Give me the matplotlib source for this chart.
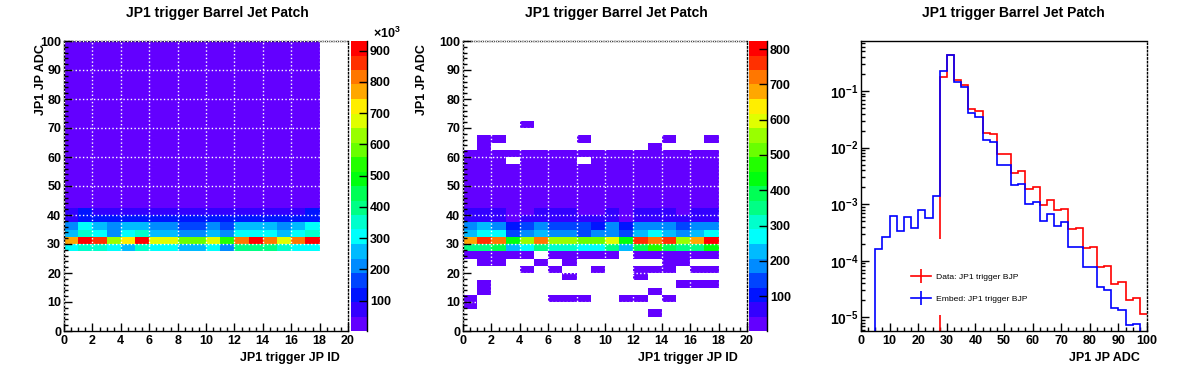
import colorsys
import numpy as np
import matplotlib
matplotlib.use('Agg')
import matplotlib.pyplot as plt
from matplotlib.colors import ListedColormap, BoundaryNorm
from matplotlib.lines import Line2D
from matplotlib.patches import Rectangle
from matplotlib.ticker import MultipleLocator, LogLocator, FuncFormatter, NullFormatter

plt.rcParams['font.family'] = ['Liberation Sans', 'DejaVu Sans']
plt.rcParams['font.weight'] = 'bold'
plt.rcParams['mathtext.fontset'] = 'custom'
plt.rcParams['mathtext.rm'] = 'Liberation Sans:bold'
plt.rcParams['mathtext.bf'] = 'Liberation Sans:bold'
plt.rcParams['mathtext.it'] = 'Liberation Sans:bold'

title = 'JP1 trigger Barrel Jet Patch'
xlabel_2d = 'JP1 trigger JP ID'
ylabel = 'JP1 JP ADC'

jp_edges = np.arange(0, 19)            # 18 jet patches
adc_edges = np.linspace(0, 100, 41)    # 40 ADC bins of 2.5

# ---- data, left panel (counts / 1000), keyed by low edge of the ADC bin
data_rows = {
    27.5: [305, 351, 351, 305, 258, 351, 305, 305, 258, 258, 305, 212, 397, 397, 397, 351, 305, 305],
    30.0: [769, 908, 861, 629, 722, 908, 676, 676, 583, 583, 676, 537, 815, 931, 815, 676, 815, 908],
    32.5: [258, 351, 305, 212, 305, 351, 258, 258, 212, 212, 258, 212, 305, 305, 305, 258, 305, 351],
    35.0: [212, 305, 258, 212, 258, 258, 212, 212, 165, 165, 212, 165, 258, 258, 258, 212, 258, 305],
    37.5: [73, 119, 119, 119, 119, 119, 119, 119, 119, 119, 119, 119, 119, 119, 119, 119, 119, 119],
    40.0: [73, 119, 73, 73, 73, 73, 73, 73, 73, 73, 73, 73, 73, 73, 73, 73, 73, 119],
}
# low-count tail above 42.5 (all in the lowest colour band)
data_tail = [45, 38, 32, 27, 23, 20, 17, 15, 13, 11, 10, 9, 8, 7, 6.5, 6, 5.5, 5, 4.5, 4, 3.5, 3.2, 3]

# ---- embedding, middle panel (counts)
embed_rows = {
    5.0:  [0, 0, 0, 0, 0, 0, 0, 0, 0, 0, 0, 0, 0, 1, 0, 0, 0, 0],
    7.5:  [1, 0, 0, 0, 0, 0, 0, 0, 0, 0, 0, 0, 0, 0, 0, 0, 0, 0],
    10.0: [1, 0, 0, 0, 0, 0, 1, 1, 1, 0, 0, 1, 1, 0, 1, 0, 0, 0],
    12.5: [0, 1, 0, 0, 0, 0, 0, 0, 0, 0, 0, 0, 0, 1, 0, 0, 0, 0],
    15.0: [0, 1, 0, 0, 0, 0, 0, 0, 0, 0, 0, 0, 0, 0, 0, 1, 1, 1],
    17.5: [0, 0, 0, 0, 0, 0, 0, 1, 0, 0, 0, 0, 1, 0, 0, 0, 0, 0],
    20.0: [0, 0, 0, 0, 1, 0, 1, 0, 0, 1, 0, 0, 1, 1, 1, 0, 1, 1],
    22.5: [0, 1, 1, 0, 0, 1, 0, 1, 0, 0, 0, 0, 0, 0, 1, 1, 0, 0],
    25.0: [3, 4, 3, 2, 3, 0, 2, 3, 4, 3, 2, 0, 3, 4, 3, 2, 3, 3],
    27.5: [350, 350, 392, 227, 268, 350, 309, 309, 268, 268, 350, 227, 392, 474, 392, 350, 350, 433],
    30.0: [679, 761, 720, 433, 556, 720, 556, 556, 515, 515, 597, 433, 761, 720, 761, 556, 679, 823],
    32.5: [227, 268, 268, 145, 186, 227, 186, 186, 145, 186, 186, 145, 227, 268, 227, 186, 227, 268],
    35.0: [186, 227, 186, 104, 145, 186, 145, 145, 145, 104, 186, 104, 186, 186, 186, 145, 186, 186],
    37.5: [63, 63, 63, 30, 63, 63, 63, 63, 63, 63, 63, 30, 63, 63, 63, 63, 63, 63],
    40.0: [63, 63, 63, 30, 30, 63, 63, 63, 30, 30, 63, 30, 63, 63, 63, 30, 63, 63],
    42.5: [35, 36, 33, 30, 31, 34, 33, 35, 32, 30, 34, 29, 36, 35, 33, 31, 34, 36],
    45.0: [22, 24, 21, 19, 20, 22, 21, 23, 20, 19, 22, 18, 24, 23, 21, 20, 22, 23],
    47.5: [14, 15, 13, 12, 13, 14, 13, 15, 12, 12, 14, 11, 15, 14, 13, 12, 14, 15],
    50.0: [9, 10, 8, 7, 8, 9, 8, 9, 8, 7, 9, 7, 10, 9, 8, 8, 9, 10],
    52.5: [6, 6, 5, 5, 5, 6, 5, 6, 5, 4, 6, 4, 6, 6, 5, 5, 6, 6],
    55.0: [4, 4, 3, 3, 3, 4, 3, 4, 3, 3, 4, 3, 4, 4, 3, 3, 4, 4],
    57.5: [2, 3, 2, 0, 2, 2, 2, 2, 0, 2, 2, 2, 3, 2, 2, 2, 2, 3],
    60.0: [2, 2, 1, 1, 1, 2, 1, 2, 1, 1, 2, 1, 2, 2, 1, 1, 2, 2],
    62.5: [0, 1, 0, 0, 0, 0, 0, 0, 0, 0, 0, 0, 0, 1, 0, 0, 0, 0],
    65.0: [0, 1, 1, 0, 0, 0, 0, 0, 1, 0, 0, 0, 0, 0, 1, 0, 0, 1],
    70.0: [0, 0, 0, 0, 1, 0, 0, 0, 0, 0, 0, 0, 0, 0, 0, 0, 0, 0],
}

# ---- right panel: normalised JP ADC spectra, 40 bins of 2.5 from 0 to 100
adc_data = [0, 0, 0, 0, 0, 0, 0, 0, 0, 0, 0,
            0.175, 0.433, 0.156, 0.128, 0.0474, 0.0443, 0.0179, 0.0172, 7.7e-3,
            7.7e-3, 3.51e-3, 3.8e-3, 1.83e-3, 2.01e-3, 9.5e-4, 1.17e-3, 7.8e-4, 8.2e-4, 3.6e-4,
            3.74e-4, 1.66e-4, 1.73e-4, 7.65e-5, 7.97e-5, 3.83e-5, 4.16e-5, 2.02e-5, 2.2e-5, 1.13e-5]
adc_embed = [0, 0, 1.59e-4, 2.6e-4, 6.2e-4, 3.4e-4, 5.85e-4, 3.74e-4, 7.8e-4, 5.77e-4,
             1.39e-3, 0.223, 0.433, 0.142, 0.116, 0.0403, 0.0343, 0.0136, 0.0124, 4.86e-3,
             4.86e-3, 2.15e-3, 2.27e-3, 9.9e-4, 1.08e-3, 5.1e-4, 6.6e-4, 4.1e-4, 4.8e-4, 1.73e-4,
             1.73e-4, 7.65e-5, 7.65e-5, 3.44e-5, 3.04e-5, 1.46e-5, 1.35e-5, 7.3e-6, 7.5e-6, 0]
legend_labels = ['Data: JP1 trigger BJP', 'Embed: JP1 trigger BJP']

# ROOT "pretty" palette, 20 contours
n_cont = 20
pal = []
for j in range(n_cont):
    idx = int((j + 0.99) * 50 / n_cont)
    hue = 280 - (idx + 1) * 280 / 50
    pal.append(colorsys.hls_to_rgb(hue / 360.0, 0.5, 1.0))
cmap = ListedColormap(pal)
cmap.set_over(pal[-1])


def fill_grid(rows, tail=None):
    z = np.zeros((len(adc_edges) - 1, len(jp_edges) - 1))
    for lo, vals in rows.items():
        z[int(round(lo / 2.5))] = vals
    if tail is not None:
        for k, v in enumerate(tail):
            z[17 + k] = v
    return z


W, H = 1196, 372
fig = plt.figure(figsize=(W / 100, H / 100), dpi=100)


def box(x0, y0, x1, y1):
    return [x0 / W, 1 - y1 / H, (x1 - x0) / W, (y1 - y0) / H]


def style_axes(ax):
    ax.spines['top'].set_linestyle(':')
    ax.spines['right'].set_linestyle(':')
    for s in ax.spines.values():
        s.set_linewidth(1.0)
    ax.tick_params(which='both', direction='in', top=False, right=False, width=1.0,
                   labelsize=9)
    ax.tick_params(which='major', length=5.5)
    ax.tick_params(which='minor', length=3)
    ax.tick_params(axis='x', pad=3)
    ax.tick_params(axis='y', pad=2)


panels = [
    (fill_grid(data_rows, data_tail), box(64, 41, 348, 331), box(351, 41, 367, 331),
     range(100, 1000, 100)),
    (fill_grid(embed_rows), box(463, 41, 747, 331), box(749, 41, 767, 331),
     range(100, 900, 100)),
]

for z, rect, crect, cticks in panels:
    ax = fig.add_axes(rect)
    zm = np.ma.masked_less_equal(z, 0)
    zmin, zmax = zm.min(), zm.max()
    norm = BoundaryNorm(np.linspace(zmin, zmax, n_cont + 1), n_cont)
    mesh = ax.pcolormesh(jp_edges, adc_edges, zm, cmap=cmap, norm=norm)
    ax.set_xlim(0, 20)
    ax.set_ylim(0, 100)
    ax.xaxis.set_major_locator(MultipleLocator(2))
    ax.xaxis.set_minor_locator(MultipleLocator(0.5))
    ax.yaxis.set_major_locator(MultipleLocator(10))
    ax.yaxis.set_minor_locator(MultipleLocator(2))
    ax.grid(True, which='major', color='white', linestyle=':', linewidth=1.0)
    ax.set_axisbelow(False)
    style_axes(ax)

    cax = fig.add_axes(crect)
    cb = fig.colorbar(mesh, cax=cax)
    cb.outline.set_visible(False)
    cb.set_ticks(list(cticks))
    cax.tick_params(which='both', direction='in', length=5.5, width=1.0, right=True,
                    labelsize=9, pad=2)
    cax.minorticks_off()
    cax.plot([1, 1], [0, 1], transform=cax.transAxes, color='black', lw=1.0,
             clip_on=False)

fig.text(373 / W, 1 - 33 / H, r'$\times10^{3}$', ha='left', va='center', fontsize=9)

# ---- right panel
ax3 = fig.add_axes(box(861, 41, 1147, 331))
ax3.stairs(adc_data, adc_edges, baseline=None, color='#ff0000', lw=1.2, zorder=2)
ax3.stairs(adc_embed, adc_edges, baseline=None, color='#0000ff', lw=1.2, zorder=2.1)
ax3.set_yscale('log')
ax3.set_xlim(0, 100)
ax3.set_ylim(5.75e-6, 0.764)
ax3.xaxis.set_major_locator(MultipleLocator(10))
ax3.xaxis.set_minor_locator(MultipleLocator(2.5))
ax3.yaxis.set_major_locator(LogLocator(base=10, numticks=12))
ax3.yaxis.set_minor_locator(LogLocator(base=10, subs=np.arange(2, 10), numticks=12))
ax3.yaxis.set_major_formatter(FuncFormatter(lambda v, p: r'$10^{%d}$' % int(round(np.log10(v)))))
ax3.yaxis.set_minor_formatter(NullFormatter())
style_axes(ax3)
ax3.spines['top'].set_linestyle('-')
ax3.tick_params(axis='y', labelsize=10)

ax3.add_patch(Rectangle((0.091, 0.055), 0.511, 0.262, transform=ax3.transAxes,
                        facecolor='white', edgecolor='none', zorder=3))
handles = [Line2D([], [], color='#ff0000', lw=1.2, marker='|', markersize=10, mew=1.2),
           Line2D([], [], color='#0000ff', lw=1.2, marker='|', markersize=10, mew=1.2)]
leg = ax3.legend(handles, legend_labels, loc='upper left', bbox_to_anchor=(0.16, 0.215),
                 frameon=False, borderpad=0, handlelength=2.35, handletextpad=0.6,
                 labelspacing=1.65, prop={'size': 6.1, 'weight': 'normal'})
leg.set_zorder(5)

# ---- titles and axis labels
for cx in (217, 616, 1013):
    fig.text(cx / W, 1 - 13 / H, title, ha='center', va='center', fontsize=10,
             weight='bold')
for rx in (340, 738):
    fig.text(rx / W, 1 - 358 / H, xlabel_2d, ha='right', va='center', fontsize=9)
fig.text(1140 / W, 1 - 358 / H, ylabel, ha='right', va='center', fontsize=9)
for lx in (41, 422):
    fig.text(lx / W, 1 - 44 / H, ylabel, ha='center', va='top', rotation=90, fontsize=9)

fig.savefig('out.png', dpi=100)
